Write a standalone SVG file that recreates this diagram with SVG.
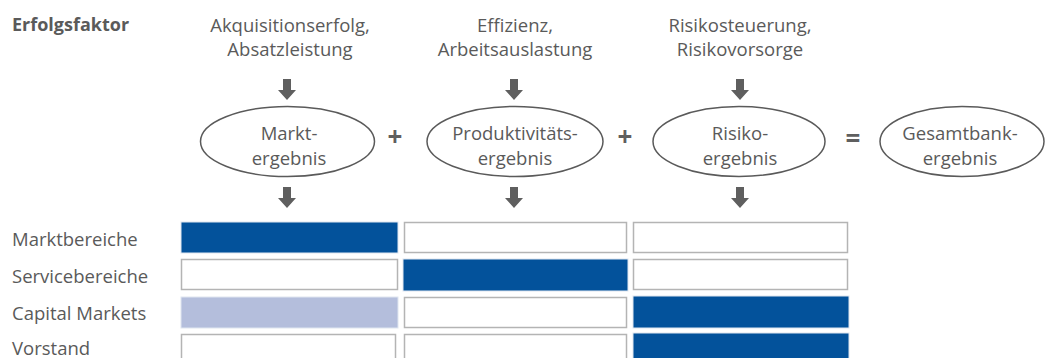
<svg xmlns="http://www.w3.org/2000/svg" width="1045" height="358" viewBox="0 0 1045 358">
  <style>
    text { font-family: "Open Sans", "Noto Sans", "Liberation Sans", sans-serif; font-size: 18.5px; fill: #5a5a5a; }
    .c { text-anchor: middle; }
    .b { font-weight: bold; font-size: 18px; }
    .node ellipse { fill: #ffffff; stroke: #5a5a5a; stroke-width: 1.5; }
    .op { font-size: 26px; font-weight: bold; fill: #5f5f5f; text-anchor: middle; }
    .cell { fill: #ffffff; stroke: #b4b4b4; stroke-width: 1.5; }
    .dark { fill: #03529b; stroke: #dfe6f0; stroke-width: 1; }
    .light { fill: #b4bedc; stroke: #dfe6f0; stroke-width: 1; }
  </style>
  <defs>
    <path id="arrow" d="M-4,0 H4 V11 H9 L0,21 L-9,11 H-4 Z" fill="#5f5f5f"/>
  </defs>

  <rect width="1045" height="358" fill="#ffffff"/>

  <!-- header -->
  <text class="b" x="12" y="31">Erfolgsfaktor</text>
  <g id="factor-markt">
    <text class="c" x="290" y="32">Akquisitionserfolg,</text>
    <text class="c" x="290" y="56">Absatzleistung</text>
  </g>
  <g id="factor-produktivitaet">
    <text class="c" x="515" y="32">Effizienz,</text>
    <text class="c" x="515" y="56">Arbeitsauslastung</text>
  </g>
  <g id="factor-risiko">
    <text class="c" x="740" y="32">Risikosteuerung,</text>
    <text class="c" x="740" y="56">Risikovorsorge</text>
  </g>

  <!-- arrows -->
  <g id="connectors">
    <use href="#arrow" x="287" y="79"/>
    <use href="#arrow" x="514" y="79"/>
    <use href="#arrow" x="740" y="79"/>
    <use href="#arrow" x="287" y="187"/>
    <use href="#arrow" x="514" y="187"/>
    <use href="#arrow" x="740" y="187"/>
  </g>

  <!-- result ellipses -->
  <g id="node-markt" class="node">
    <ellipse cx="287.5" cy="141.5" rx="87" ry="35"/>
    <text class="c" x="289" y="140">Markt-</text>
    <text class="c" x="289" y="165">ergebnis</text>
  </g>
  <g id="node-produktivitaet" class="node">
    <ellipse cx="515" cy="141.5" rx="88" ry="35"/>
    <text class="c" x="515" y="140">Produktivitäts-</text>
    <text class="c" x="515" y="165">ergebnis</text>
  </g>
  <g id="node-risiko" class="node">
    <ellipse cx="739" cy="141.5" rx="86" ry="35"/>
    <text class="c" x="740" y="140">Risiko-</text>
    <text class="c" x="740" y="165">ergebnis</text>
  </g>
  <g id="node-gesamt" class="node">
    <ellipse cx="962" cy="141.5" rx="82" ry="35"/>
    <text class="c" x="960" y="140">Gesamtbank-</text>
    <text class="c" x="960" y="165">ergebnis</text>
  </g>

  <!-- operators -->
  <text class="op" x="395" y="146">+</text>
  <text class="op" x="625" y="146">+</text>
  <text class="op" x="853" y="148">=</text>

  <!-- organisational units -->
  <g id="row-labels">
    <text x="12" y="246">Marktbereiche</text>
    <text x="12" y="283">Servicebereiche</text>
    <text x="12" y="320">Capital Markets</text>
    <text x="12" y="355">Vorstand</text>
  </g>

  <g id="matrix">
    <rect class="dark" x="181" y="222" width="217" height="31"/>
    <rect class="cell" x="404.5" y="222.5" width="222" height="30"/>
    <rect class="cell" x="633.5" y="222.5" width="214" height="30"/>

    <rect class="cell" x="181.5" y="259.5" width="216" height="30"/>
    <rect class="dark" x="403" y="259" width="225" height="32"/>
    <rect class="cell" x="633.5" y="259.5" width="214" height="30"/>

    <rect class="light" x="181" y="297" width="217" height="31"/>
    <rect class="cell" x="404.5" y="297.5" width="222" height="30"/>
    <rect class="dark" x="633" y="296" width="216" height="32"/>

    <rect class="cell" x="181.5" y="334.5" width="214" height="30"/>
    <rect class="cell" x="404.5" y="334.5" width="222" height="30"/>
    <rect class="dark" x="633" y="333" width="216" height="32"/>
  </g>
</svg>
